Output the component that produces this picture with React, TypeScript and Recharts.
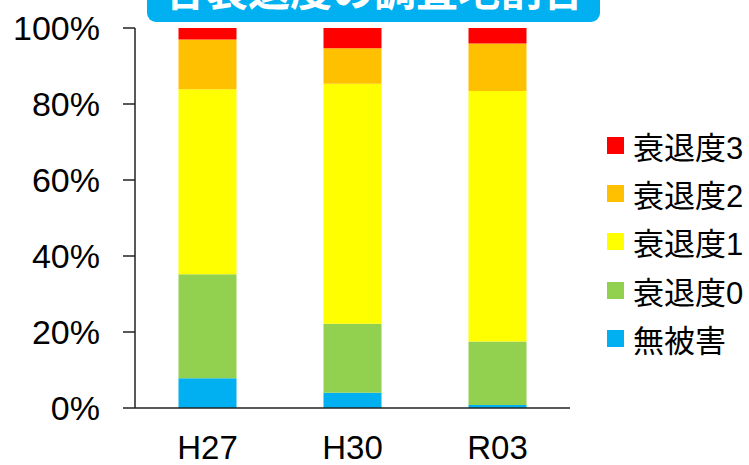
import React from 'react';
import { BarChart, Bar, XAxis, YAxis } from 'recharts';

const years = ['H27', 'H30', 'R03'];
const noDamage = [7.8, 4.0, 0.8];
const decline0 = [27.4, 18.2, 16.7];
const decline1 = [48.7, 63.1, 65.9];
const decline2 = [13.1, 9.4, 12.5];
const decline3 = [3.0, 5.3, 4.1];
const percentTicks = [0, 20, 40, 60, 80, 100];

const series = [
  { key: '無被害', values: noDamage, color: '#00B0F0' },
  { key: '衰退度0', values: decline0, color: '#92D050' },
  { key: '衰退度1', values: decline1, color: '#FFFF00' },
  { key: '衰退度2', values: decline2, color: '#FFC000' },
  { key: '衰退度3', values: decline3, color: '#FF0000' },
];

const rows = years.map((year, i) => {
  const row: Record<string, string | number> = { year };
  series.forEach((s) => {
    row[s.key] = s.values[i];
  });
  return row;
});

const FONT = '"Liberation Sans", Arial, "Noto Sans CJK JP", sans-serif';

// legend lists the top of the stack first
const LegendList = () => (
  <div style={{ position: 'absolute', left: 607, top: 121, fontFamily: FONT }}>
    {[...series].reverse().map((s) => (
      <div
        key={s.key}
        style={{ display: 'flex', alignItems: 'center', height: 48.3, fontSize: 31, color: '#000', whiteSpace: 'nowrap' }}
      >
        <span style={{ width: 17, height: 17, background: s.color, marginRight: 9, display: 'inline-block' }} />
        <span>{s.key}</span>
      </div>
    ))}
  </div>
);

const App = () => {
  return (
    <div style={{ position: 'absolute', left: 0, top: 0, width: 749, height: 465, background: '#fff', overflow: 'hidden' }}>
      <BarChart
        width={749}
        height={465}
        data={rows}
        margin={{ top: 28, right: 179, bottom: 0, left: 0 }}
        barCategoryGap="30%"
      >
        <XAxis
          dataKey="year"
          tickLine={false}
          axisLine={{ stroke: '#222', strokeWidth: 1.5 }}
          height={57}
          tickMargin={22}
          tick={{ fill: '#000', fontSize: 33, fontFamily: FONT }}
        />
        <YAxis
          type="number"
          domain={[0, 100]}
          ticks={percentTicks}
          width={135}
          tickSize={12}
          tickMargin={23}
          interval={0}
          tickFormatter={(v: number) => `${v}%`}
          axisLine={{ stroke: '#222', strokeWidth: 1.5 }}
          tickLine={{ stroke: '#222', strokeWidth: 1.5 }}
          tick={{ fill: '#000', fontSize: 34, fontFamily: FONT }}
        />
        {series.map((s) => (
          <Bar key={s.key} dataKey={s.key} stackId="a" fill={s.color} isAnimationActive={false} />
        ))}
      </BarChart>
      <LegendList />
      <svg width={749} height={40} style={{ position: 'absolute', left: 0, top: 0 }}>
        <rect x={147} y={-30} width={453} height={52} rx={9} fill="#00B0F0" />
        <text
          x={374}
          y={6}
          textAnchor="middle"
          fill="#fff"
          fontSize={42}
          fontWeight="bold"
          fontFamily='"Noto Sans CJK JP", sans-serif'
        >
          各衰退度の調査地割合
        </text>
      </svg>
    </div>
  );
};

export default App;
